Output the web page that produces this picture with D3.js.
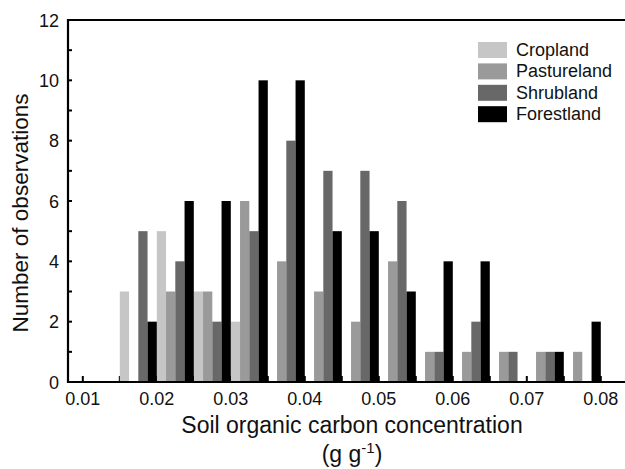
<!DOCTYPE html>
<html><head><meta charset="utf-8">
<script src="https://cdn.jsdelivr.net/npm/d3@7"></script>
<style>body{margin:0;background:#fff}svg{display:block;font-family:Arial,"Liberation Sans",sans-serif}</style>
</head><body><svg id="c" width="625" height="469"></svg>
<script>
const binStarts = [0.015,0.02,0.025,0.03,0.035,0.04,0.045,0.05,0.055,0.06,0.065,0.07,0.075];
const seriesNames = ["Cropland","Pastureland","Shrubland","Forestland"];
const cropland    = [3,5,3,2,0,0,0,0,0,0,0,0,0];
const pastureland = [0,3,3,6,4,3,2,4,1,1,1,1,1];
const shrubland   = [5,4,2,5,8,7,7,6,1,2,1,1,0];
const forestland  = [2,6,6,10,10,5,5,3,4,4,0,1,2];
const xTicks = [0.01,0.02,0.03,0.04,0.05,0.06,0.07,0.08];
const yTicks = [0,2,4,6,8,10,12];
const binWidth = 0.005;

const series = [cropland, pastureland, shrubland, forestland];
const colors = ["#c6c6c6","#9a9a9a","#686868","#000000"];

const svg = d3.select("#c");
const L = 68, R = 625, T = 20, B = 382;
const x = d3.scaleLinear().domain([0.008, 0.08327]).range([L, R]);
const y = d3.scaleLinear().domain([0, 12]).range([B, T]);

// minor x ticks (inside)
const minorX = d3.range(0.01, 0.0801, 0.005);
svg.append("g").selectAll("line").data(minorX).join("line")
  .attr("x1", d => x(d)).attr("x2", d => x(d))
  .attr("y1", B).attr("y2", B - 6)
  .attr("stroke", "#000").attr("stroke-width", 2);

// bars
const sub = binWidth / 4;
series.forEach((vals, j) => {
  svg.append("g").selectAll("rect").data(vals.map((v, i) => ({v, b: binStarts[i]}))).join("rect")
    .attr("x", d => x(d.b + j * sub))
    .attr("width", d => x(d.b + (j + 1) * sub) - x(d.b + j * sub))
    .attr("y", d => y(d.v))
    .attr("height", d => y(0) - y(d.v))
    .attr("fill", colors[j]);
});

// y ticks inside
const yMinor = d3.range(0, 13, 1);
svg.append("g").selectAll("line").data(yMinor).join("line")
  .attr("x1", L).attr("x2", L + 4)
  .attr("y1", d => y(d)).attr("y2", d => y(d))
  .attr("stroke", "#000").attr("stroke-width", 2);

// axes frame
svg.append("line").attr("x1", L).attr("x2", L).attr("y1", T - 1).attr("y2", B + 1).attr("stroke", "#000").attr("stroke-width", 2.2);
svg.append("line").attr("x1", L - 1).attr("x2", R).attr("y1", B).attr("y2", B).attr("stroke", "#000").attr("stroke-width", 2.2);
svg.append("line").attr("x1", L - 1).attr("x2", R).attr("y1", T).attr("y2", T).attr("stroke", "#000").attr("stroke-width", 2.2);

// y tick labels
svg.append("g").selectAll("text").data(yTicks).join("text")
  .attr("x", 59).attr("y", d => y(d) + 6.5)
  .attr("text-anchor", "end").attr("font-size", 18).attr("fill", "#111")
  .text(d => d);

// x tick labels
svg.append("g").selectAll("text").data(xTicks).join("text")
  .attr("x", d => x(d)).attr("y", 405)
  .attr("text-anchor", "middle").attr("font-size", 18).attr("fill", "#111")
  .text(d => d3.format(".2f")(d));

// axis titles
svg.append("text").attr("x", 352).attr("y", 433).attr("text-anchor", "middle")
  .attr("font-size", 23).attr("fill", "#111").text("Soil organic carbon concentration");
const t2 = svg.append("text").attr("x", 352).attr("y", 462).attr("text-anchor", "middle")
  .attr("font-size", 23).attr("fill", "#111");
t2.append("tspan").text("(g g");
t2.append("tspan").attr("dy", -9).attr("font-size", 15).text("-1");
t2.append("tspan").attr("dy", 9).text(")");

svg.append("text").attr("transform", "translate(28,213) rotate(-90)")
  .attr("text-anchor", "middle").attr("font-size", 22.5).attr("fill", "#111")
  .text("Number of observations");

// legend
const lg = svg.append("g");
seriesNames.forEach((name, i) => {
  const yy = 42 + i * 21.4;
  lg.append("rect").attr("x", 478).attr("y", yy).attr("width", 29).attr("height", 16).attr("fill", colors[i]);
  lg.append("text").attr("x", 516).attr("y", yy + 14).attr("font-size", 18).attr("fill", "#111").text(name);
});
</script></body></html>
